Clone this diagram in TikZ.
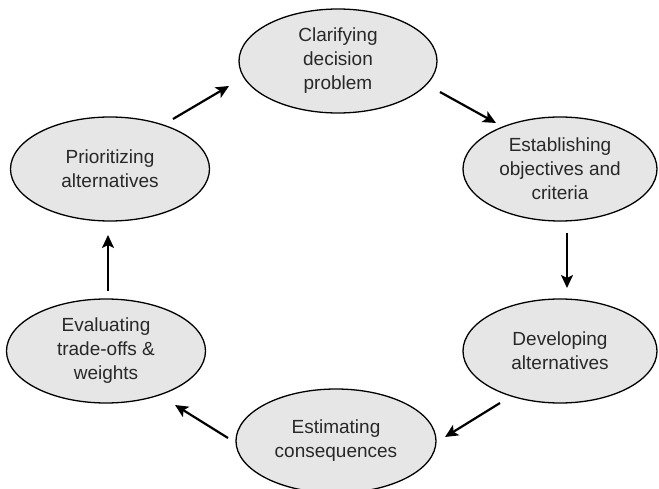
\documentclass[tikz,border=0pt]{standalone}
\usepackage{fontspec}
\setmainfont{Liberation Sans}
\usetikzlibrary{shapes.geometric,arrows.meta,calc}
\definecolor{efill}{RGB}{230,230,230}
\definecolor{etext}{RGB}{40,40,40}
\begin{document}
\begin{tikzpicture}[x=1pt,y=-1pt,
  stagebox/.style={ellipse,draw=black,line width=1.3pt,fill=efill,
    minimum width=198pt,minimum height=104pt,inner sep=0pt,align=center,
    text=etext,font=\fontsize{19}{24}\selectfont},
  arr/.style={line width=2.2pt,-{Stealth[length=13pt,width=12pt,inset=3pt]}}]
\useasboundingbox (0,0) rectangle (659,489);
\node[stagebox] (cla) at (338,61) {Clarifying\\decision\\problem};
\node[stagebox,minimum width=194pt] (est) at (560,169) {Establishing\\objectives and\\criteria};
\node[stagebox,minimum width=194pt] (dev) at (560,351) {Developing\\alternatives};
\node[stagebox,minimum width=200pt] (estm) at (336,441) {Estimating\\consequences};
\node[stagebox,minimum width=199pt] (eva) at (106,351) {Evaluating\\trade-offs \&\\weights};
\node[stagebox,minimum width=199pt] (pri) at (110,169) {Prioritizing\\alternatives};
\coordinate (s1) at ($(pri.center)+(63,-50)$);
\coordinate (e1) at ($(cla.center)+(-109,25)$);
\coordinate (s2) at ($(cla.center)+(102,31)$);
\coordinate (e2) at ($(est.center)+(-64,-46)$);
\coordinate (s3) at ($(est.center)+(7,64)$);
\coordinate (e3) at ($(dev.center)+(7,-63)$);
\coordinate (s4) at ($(dev.center)+(-60,52)$);
\coordinate (e4) at ($(estm.center)+(109,-4)$);
\coordinate (s5) at ($(estm.center)+(-108,-3)$);
\coordinate (e5) at ($(eva.center)+(69,54)$);
\coordinate (s6) at ($(eva.center)+(2,-60)$);
\coordinate (e6) at ($(pri.center)+(-2,66)$);
\draw[arr] (s1) -- (e1);
\draw[arr] (s2) -- (e2);
\draw[arr] (s3) -- (e3);
\draw[arr] (s4) -- (e4);
\draw[arr] (s5) -- (e5);
\draw[arr] (s6) -- (e6);
\end{tikzpicture}
\end{document}
